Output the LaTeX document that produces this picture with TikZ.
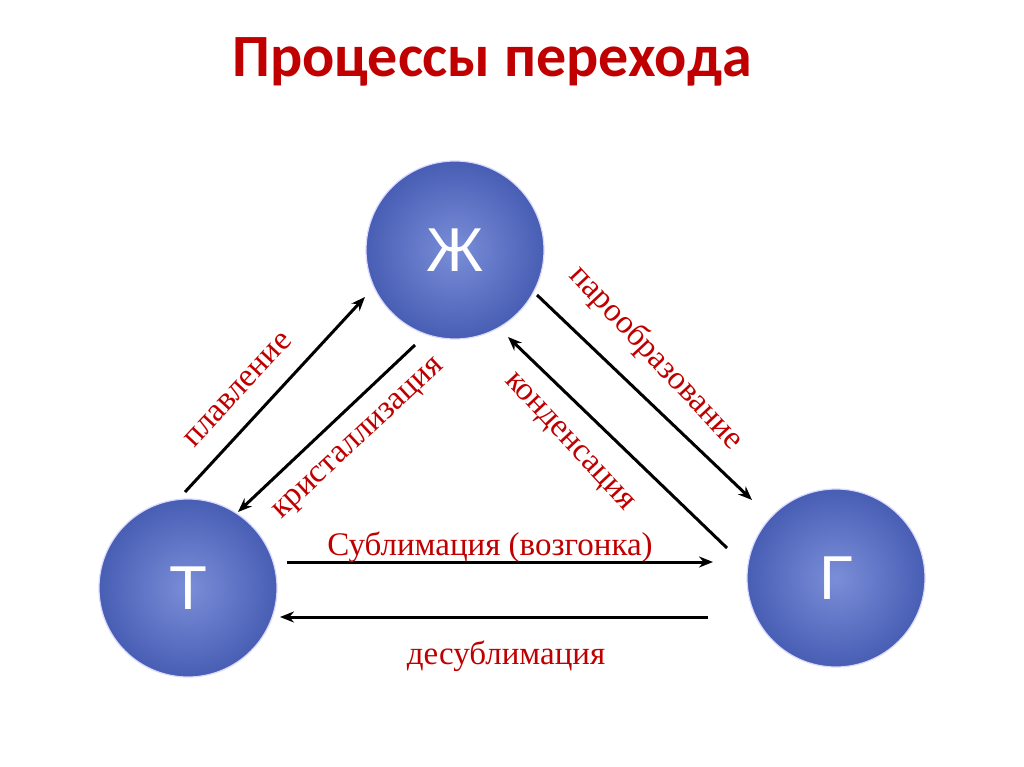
\documentclass[tikz,border=0pt]{standalone}
\usepackage{fontspec}
\setmainfont{Liberation Serif}
\newfontfamily\titlefont{Carlito}
\newfontfamily\ballfont{Liberation Sans}
\usetikzlibrary{arrows.meta}
\begin{document}
\begin{tikzpicture}[x=1pt,y=-1pt,
  ball/.style={circle,minimum size=178pt,inner sep=0pt,draw=blue!15!white,line width=1.2pt,
    inner color={rgb,255:red,122;green,142;blue,216},outer color={rgb,255:red,72;green,94;blue,180},
    text=white,font=\ballfont\fontsize{62}{64}\selectfont},
  arr/.style={->,>={Stealth[length=14pt,width=11pt]},line width=3pt},
  lbl/.style={text={rgb,255:red,192;green,0;blue,0},font=\fontsize{33}{35}\selectfont,inner sep=0pt}]
\useasboundingbox (0,0) rectangle (1024,767);
\fill[white] (0,0) rectangle (1024,767);
\node[text={rgb,255:red,192;green,0;blue,0},font=\titlefont\bfseries\fontsize{60}{62}\selectfont] (title) at (492,62) {Процессы перехода};
\node[ball] (zh) at (455,250) {Ж};
\node[ball] (t) at (188,588) {Т};
\node[ball] (g) at (836,578) {Г};
\coordinate (a1) at (185,492); \coordinate (a2) at (365,297);
\coordinate (b1) at (415,345); \coordinate (b2) at (238,512);
\coordinate (c1) at (537,295); \coordinate (c2) at (752,500);
\coordinate (d1) at (727,548); \coordinate (d2) at (508,337);
\coordinate (e1) at (287,562); \coordinate (e2) at (713,562);
\coordinate (f1) at (708,617); \coordinate (f2) at (280,617);
\draw[arr] (a1) -- (a2);
\draw[arr] (b1) -- (b2);
\draw[arr] (c1) -- (c2);
\draw[arr] (d1) -- (d2);
\draw[arr] (e1) -- (e2);
\draw[arr] (f1) -- (f2);
\node[lbl,rotate=47] (l1) at (238,390) {плавление};
\node[lbl,rotate=43] (l2) at (360,440) {кристаллизация};
\node[lbl,rotate=-47] (l3) at (656,358) {парообразование};
\node[lbl,rotate=-47] (l4) at (568,443) {конденсация};
\node[lbl] (l5) at (490,547) {Сублимация (возгонка)};
\node[lbl] (l6) at (506,656) {десублимация};
\end{tikzpicture}
\end{document}
